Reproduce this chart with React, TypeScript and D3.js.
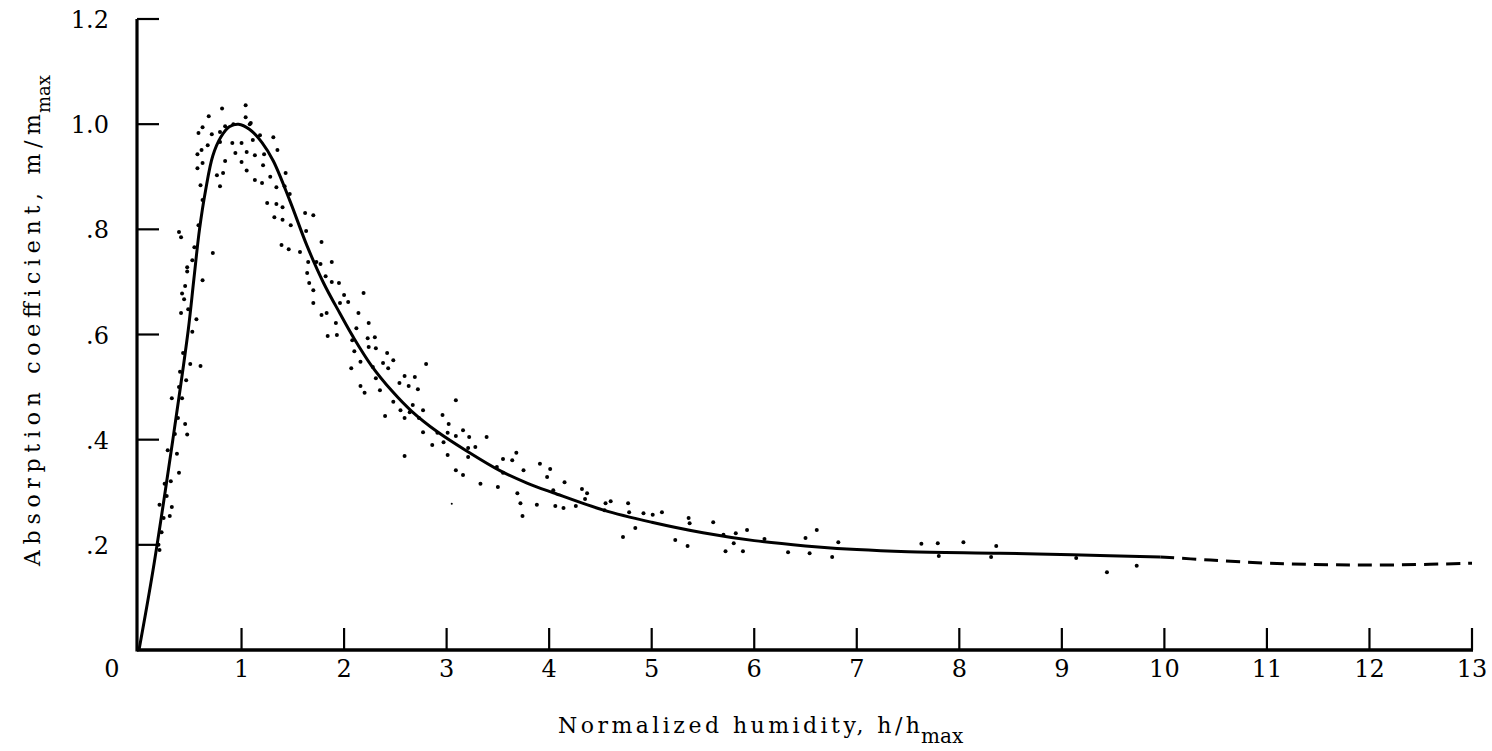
import React from "react";
import * as d3 from "d3";

const xTicks = [0, 1, 2, 3, 4, 5, 6, 7, 8, 9, 10, 11, 12, 13];
const xTickLabels = ["1", "2", "3", "4", "5", "6", "7", "8", "9", "10", "11", "12", "13"];
const yTicks = [0.2, 0.4, 0.6, 0.8, 1.0, 1.2];
const yTickLabels = [".2", ".4", ".6", ".8", "1.0", "1.2"];

// fitted curve (solid part)
const curveSolid: [number, number][] = [
  [0, 0], [0.137, 0.152], [0.33, 0.4], [0.48, 0.608], [0.535, 0.705], [0.59, 0.8],
  [0.65, 0.875], [0.72, 0.94], [0.8, 0.976], [0.88, 0.995], [0.97, 1.0], [1.08, 0.99],
  [1.2, 0.965], [1.31, 0.93], [1.47, 0.855], [1.64, 0.768], [1.8, 0.698], [1.96, 0.64],
  [2.09, 0.595], [2.27, 0.54], [2.47, 0.492], [2.66, 0.454], [2.91, 0.415], [3.2, 0.378],
  [3.52, 0.341], [3.79, 0.317], [4.04, 0.299], [4.53, 0.266], [5.0, 0.243], [5.5, 0.223],
  [6.0, 0.208], [6.5, 0.198], [7.0, 0.191], [7.5, 0.187], [8.4, 0.184], [9.1, 0.181],
  [9.96, 0.177],
];
// extrapolated (dashed) part
const curveDashed: [number, number][] = [
  [9.96, 0.177], [10.45, 0.171], [11.03, 0.165], [11.65, 0.162], [12.3, 0.162], [13.0, 0.165],
];

// measured points – rising side
const pointsRise: [number, number][] = [
  [0.19, 0.2], [0.2, 0.19], [0.22, 0.224], [0.24, 0.251], [0.3, 0.255], [0.2, 0.276],
  [0.32, 0.272], [0.27, 0.293], [0.25, 0.316], [0.31, 0.321], [0.39, 0.337], [0.37, 0.373],
  [0.28, 0.38], [0.35, 0.411], [0.47, 0.41], [0.45, 0.43], [0.38, 0.441], [0.32, 0.479],
  [0.42, 0.479], [0.39, 0.5], [0.46, 0.513], [0.4, 0.529], [0.6, 0.54], [0.5, 0.544],
  [0.43, 0.565], [0.52, 0.605], [0.56, 0.629], [0.41, 0.641], [0.48, 0.648], [0.44, 0.667],
  [0.42, 0.678], [0.45, 0.692], [0.62, 0.703], [0.47, 0.72], [0.47, 0.728], [0.52, 0.741],
  [0.72, 0.755], [0.54, 0.766], [0.41, 0.785], [0.39, 0.795], [0.58, 0.808], [0.62, 0.856],
  [0.6, 0.884], [0.79, 0.882], [0.82, 0.907], [0.76, 0.903], [0.57, 0.916], [0.62, 0.926],
  [0.84, 0.93], [0.57, 0.943], [0.61, 0.951], [0.67, 0.96], [0.79, 0.966], [0.71, 0.981],
  [0.58, 0.983], [0.79, 0.985], [0.62, 0.994], [0.84, 0.996], [0.92, 1.0], [0.68, 1.015],
  [0.81, 1.03],
];
// measured points – around the peak and falling side
const pointsPeak: [number, number][] = [
  [1.04, 1.036], [1.04, 1.013], [1.08, 1.0], [1.09, 1.002], [0.91, 0.964], [1.0, 0.964],
  [1.11, 0.97], [0.94, 0.945], [1.05, 0.947], [1.13, 0.941], [1.0, 0.928], [1.05, 0.912],
  [1.13, 0.894], [1.18, 0.979], [1.31, 0.975], [1.22, 0.943], [1.35, 0.951], [1.21, 0.922],
  [1.43, 0.907], [1.2, 0.888], [1.28, 0.9], [1.34, 0.88], [1.42, 0.882], [1.47, 0.867],
  [1.25, 0.85], [1.34, 0.848], [1.4, 0.842], [1.62, 0.831], [1.7, 0.827], [1.32, 0.823],
  [1.4, 0.818], [1.48, 0.808], [1.63, 0.797], [1.78, 0.776], [1.39, 0.77], [1.46, 0.762],
  [1.57, 0.757], [1.65, 0.738], [1.73, 0.738], [1.77, 0.734], [1.88, 0.738], [1.64, 0.717],
  [1.82, 0.711], [1.66, 0.698], [1.88, 0.7], [1.95, 0.698], [1.7, 0.684], [2.0, 0.675],
  [2.19, 0.679], [1.7, 0.66], [1.96, 0.66], [2.04, 0.662], [1.78, 0.637], [1.83, 0.641],
  [1.92, 0.622], [2.14, 0.641], [2.24, 0.622], [2.12, 0.612], [1.84, 0.597], [1.93, 0.599],
  [2.23, 0.593], [2.3, 0.595],
];
// measured points – decay region
const pointsDecay: [number, number][] = [
  [2.08, 0.589], [2.1, 0.568], [2.24, 0.576], [2.31, 0.574], [2.16, 0.548], [2.07, 0.536],
  [2.28, 0.538], [2.42, 0.565], [2.38, 0.546], [2.48, 0.551], [2.43, 0.536], [2.31, 0.517],
  [2.8, 0.544], [2.16, 0.502], [2.2, 0.489], [2.35, 0.494], [2.54, 0.508], [2.59, 0.521],
  [2.69, 0.519], [2.63, 0.502], [2.72, 0.496], [2.48, 0.472], [2.55, 0.456], [2.67, 0.466],
  [2.77, 0.456], [2.4, 0.445], [2.59, 0.441], [2.64, 0.452], [2.73, 0.441], [3.09, 0.475],
  [2.96, 0.447], [2.77, 0.414], [2.91, 0.413], [3.02, 0.43], [3.16, 0.418], [3.01, 0.413],
  [3.09, 0.407], [3.22, 0.405], [2.86, 0.39], [2.97, 0.395], [3.21, 0.384], [3.28, 0.386],
  [2.59, 0.369], [3.01, 0.371], [3.21, 0.367], [3.09, 0.342], [3.16, 0.333], [3.55, 0.363],
  [3.68, 0.375], [3.64, 0.361], [3.39, 0.405], [3.49, 0.348], [3.55, 0.337], [3.33, 0.316],
  [3.5, 0.31], [3.69, 0.298], [3.72, 0.279], [3.74, 0.255], [3.75, 0.342], [3.91, 0.354],
  [4.01, 0.344], [3.98, 0.329], [3.88, 0.276], [4.06, 0.274], [4.14, 0.27], [4.04, 0.304],
  [4.15, 0.319], [4.26, 0.274], [4.32, 0.306], [4.37, 0.298], [4.35, 0.287], [4.55, 0.279],
  [4.6, 0.283], [4.54, 0.266], [4.77, 0.279], [4.78, 0.262], [4.72, 0.215], [4.84, 0.232],
  [4.92, 0.26], [5.01, 0.257], [5.1, 0.262], [5.23, 0.209], [5.35, 0.198], [5.36, 0.251],
  [5.37, 0.241], [5.6, 0.243], [5.7, 0.219], [5.72, 0.188], [5.8, 0.203], [5.82, 0.222],
  [5.89, 0.188], [5.93, 0.228],
];
// measured points – tail
const pointsTail: [number, number][] = [
  [6.1, 0.211], [6.33, 0.186], [6.5, 0.213], [6.54, 0.184], [6.61, 0.228], [6.76, 0.177],
  [6.82, 0.205], [7.63, 0.202], [7.79, 0.203], [7.8, 0.179], [8.04, 0.205], [8.31, 0.177],
  [8.36, 0.198], [9.14, 0.175], [9.44, 0.148], [9.73, 0.16],
];
const smallPoints: [number, number][] = [[3.05, 0.278]];

const W = 1492;
const H = 751;

export default function App() {
  const x = d3.scaleLinear().domain([0, 13]).range([139, 1472]);
  const y = d3.scaleLinear().domain([0, 1.2]).range([650, 19]);
  const line = d3
    .line<[number, number]>()
    .x((d) => x(d[0]))
    .y((d) => y(d[1]))
    .curve(d3.curveCatmullRom.alpha(0.5));

  const allPoints = [...pointsRise, ...pointsPeak, ...pointsDecay, ...pointsTail];
  const font = "'DejaVu Serif', serif";
  const axisX = x(0) - 2;

  return (
    <svg
      width={W}
      height={H}
      style={{ position: "absolute", left: 0, top: 0, background: "#fff" }}
      fontFamily={font}
    >
      <rect width={W} height={H} fill="#fff" />
      {/* y axis */}
      <line x1={axisX} x2={axisX} y1={y(1.2)} y2={y(0) + 1.5} stroke="#000" strokeWidth={3.2} />
      {yTicks.map((t) => (
        <line key={"yt" + t} x1={axisX} x2={axisX + 22} y1={y(t)} y2={y(t)} stroke="#000" strokeWidth={2.2} />
      ))}
      {yTicks.map((t, i) => (
        <text key={"yl" + t} x={109} y={y(t) + 9} textAnchor="end" fontSize={24} fill="#000">
          {yTickLabels[i]}
        </text>
      ))}
      <text x={112} y={677} textAnchor="middle" fontSize={24} fill="#000">0</text>

      {/* x axis */}
      <line x1={axisX} x2={x(13) + 1} y1={y(0)} y2={y(0)} stroke="#000" strokeWidth={3.6} />
      {xTicks.slice(1).map((t) => (
        <line key={"xt" + t} x1={x(t)} x2={x(t)} y1={y(0)} y2={y(0) - 22} stroke="#000" strokeWidth={2.2} />
      ))}
      {xTicks.slice(1).map((t, i) => (
        <text key={"xl" + t} x={x(t)} y={677} textAnchor="middle" fontSize={24} fill="#000">
          {xTickLabels[i]}
        </text>
      ))}

      {/* axis titles */}
      <text x={558} y={733} fontSize={22} fill="#000" textLength={362} lengthAdjust="spacing">
        Normalized humidity, h/h
      </text>
      <text x={921} y={743} fontSize={20} fill="#000">
        max
      </text>
      <text
        transform="translate(40,566) rotate(-90)"
        fontSize={22}
        fill="#000"
        textLength={452}
        lengthAdjust="spacing"
      >
        Absorption coefficient, m/m
      </text>
      <text transform="translate(50,113) rotate(-90)" fontSize={18} fill="#000">
        max
      </text>

      {/* curve */}
      <path d={line(curveSolid) || ""} fill="none" stroke="#000" strokeWidth={3} />
      <path
        d={line(curveDashed) || ""}
        fill="none"
        stroke="#000"
        strokeWidth={3}
        strokeDasharray="14,8"
      />

      {/* data points */}
      {allPoints.map((p, i) => (
        <circle key={"p" + i} cx={x(p[0])} cy={y(p[1])} r={2} fill="#000" />
      ))}
      {smallPoints.map((p, i) => (
        <circle key={"s" + i} cx={x(p[0])} cy={y(p[1])} r={1} fill="#000" />
      ))}
    </svg>
  );
}
